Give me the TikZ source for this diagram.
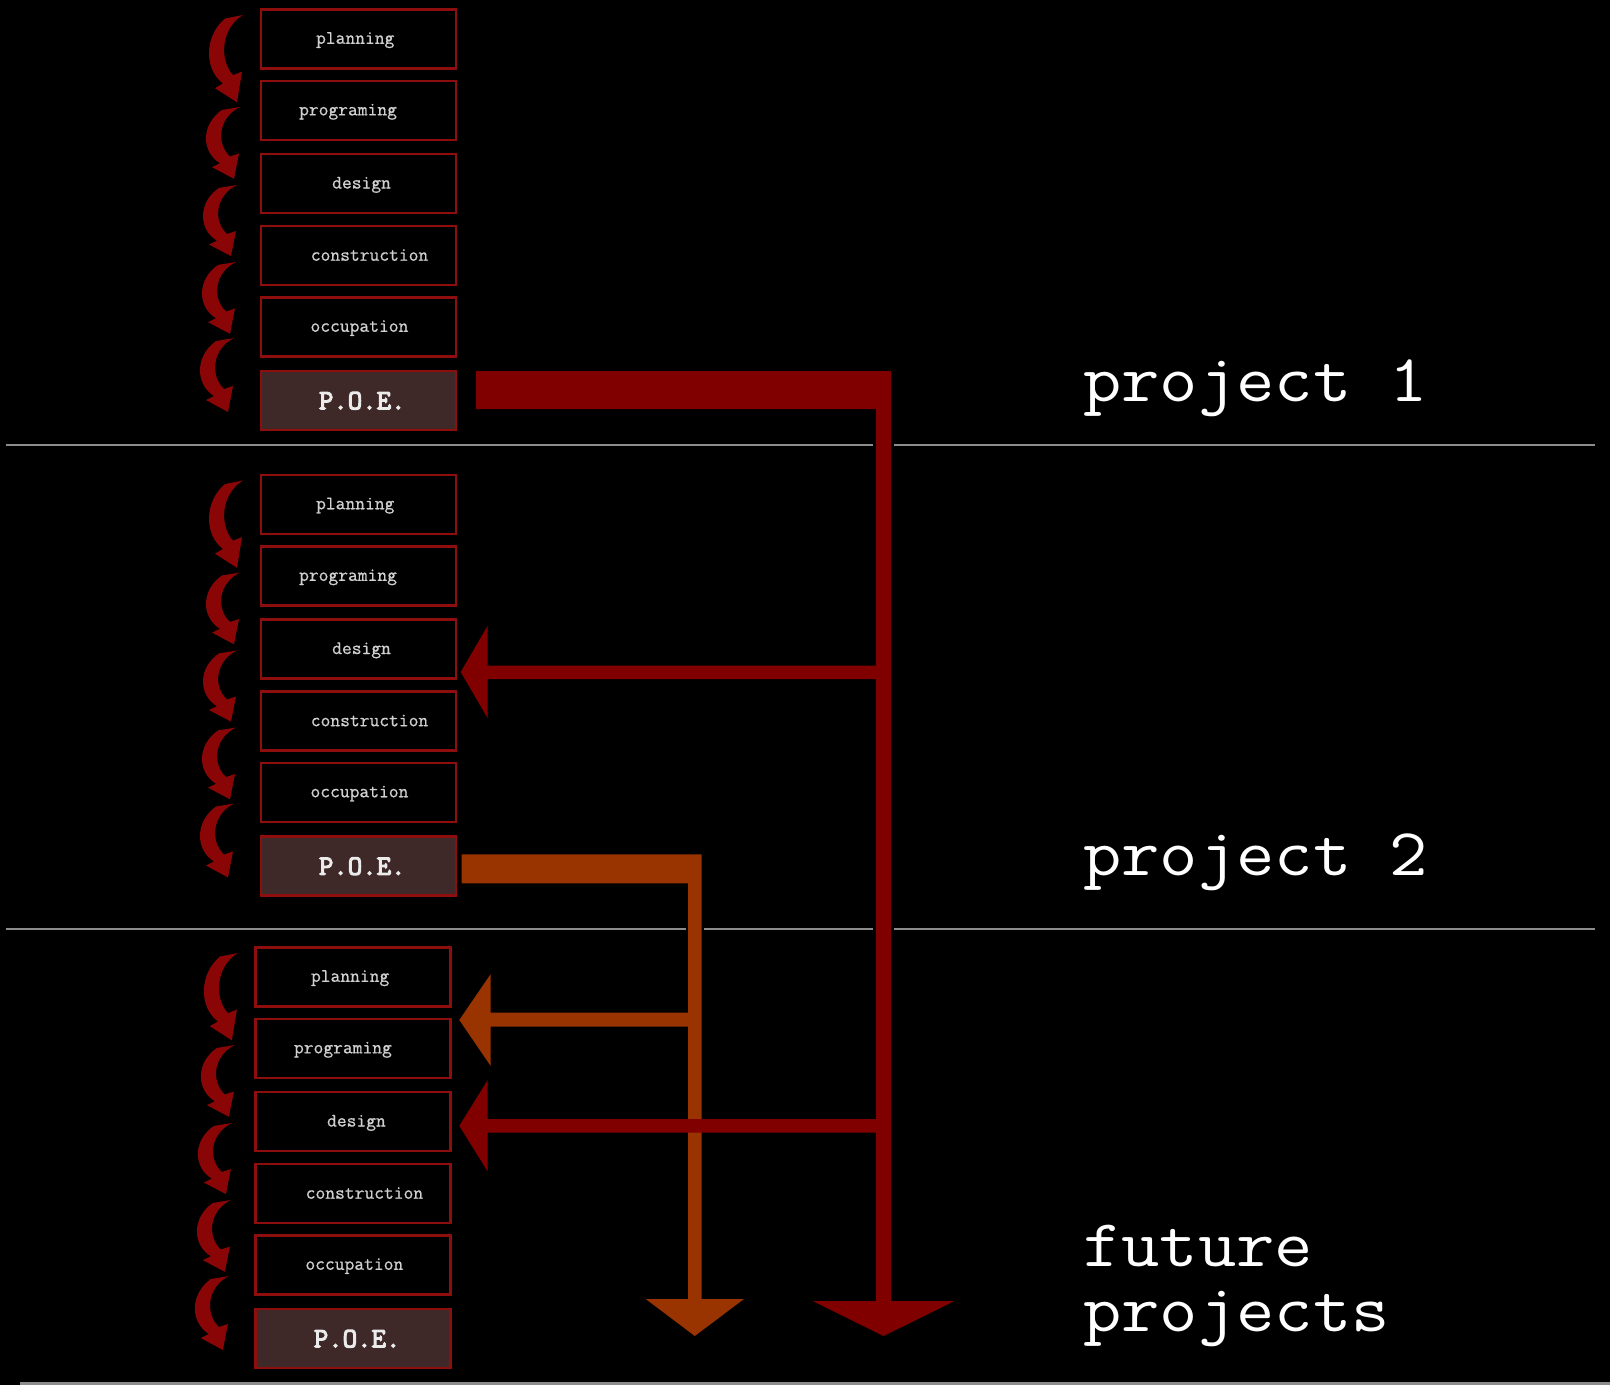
\documentclass[tikz,border=0pt]{standalone}
\usepackage{fontspec}
\setmainfont{Liberation Serif}
\newfontfamily\poefont[FakeBold=4]{Latin Modern Mono}
\newfontfamily\stagefont[FakeBold=0.8]{Latin Modern Mono}
\usetikzlibrary{calc}

\definecolor{deepred}{HTML}{800000}
\definecolor{rust}{HTML}{993300}
\definecolor{boxline}{HTML}{8E0E0E}
\definecolor{poefill}{HTML}{3E2828}
\definecolor{sepgray}{HTML}{8C8C8C}
\definecolor{stagegray}{HTML}{D0D0D0}
\definecolor{curlred}{HTML}{8A0606}

\newcommand{\widetitle}[1]{\scalebox{1.11}[1]{#1}}

\tikzset{
  stagebox/.style={draw=boxline, line width=2.5pt, fill=black,
    minimum width=195pt, minimum height=59pt, inner sep=0pt},
  poebox/.style={stagebox, fill=poefill},
  stagetext/.style={anchor=base, inner sep=0pt, text=stagegray,
    font=\stagefont\fontsize{19}{22}\selectfont},
  poetext/.style={anchor=base, inner sep=0pt, text=white!92!black,
    font=\poefont\fontsize{28}{32}\selectfont},
  bigtext/.style={anchor=base west, inner sep=0pt, text=white,
    font=\ttfamily\fontsize{67}{80}\selectfont},
  sepline/.style={draw=sepgray, line width=2.5pt},
  curl/.pic={
    \fill[curlred] (0,0) -- (-18,3)
      .. controls (-39,18) and (-39,46) .. (-20,58)
      -- (-28,62) -- (-6,74) -- (-1,48) -- (-10,51)
      .. controls (-24,38) and (-22,11) .. (0,0) -- cycle;
  }
}

% one column of project phases: #1 name prefix, #2 centre x, #3 centre y of the first box
\newcommand{\phasestack}[3]{%
  \foreach \nm/\txt/\dx/\dy in {a/planning/-3/0, b/programing/-10.2/71.6,
      c/design/3.3/144.75, d/construction/11.3/216.95, e/occupation/1.2/288}{
    \node[stagebox] (#1\nm) at (#2, #3+\dy) {};
    \node[stagetext] (#1\nm t) at ($(#1\nm.center)+(\dx,5)$) {\txt};
  }
  \node[poebox] (#1f) at (#2, #3+361.5) {};
  \node[poetext] (#1ft) at ($(#1f.center)+(4,9)$) {P.O.E.};
  % curved step arrows beside the boxes
  \pic[yscale=1.18] at (#2-115.25, #3-23.75) {curl};
  \pic[yscale=0.97] at (#2-118.25, #3+68.25) {curl};
  \pic[yscale=0.96] at (#2-121.25, #3+146.25) {curl};
  \pic[yscale=0.97] at (#2-122.25, #3+223.25) {curl};
  \pic at (#2-124.25, #3+299.25) {curl};
}

\begin{document}
\begin{tikzpicture}[x=1pt, y=-1pt]
  \fill[black] (0,0) rectangle (1610,1385);
  \useasboundingbox (0,0) rectangle (1610,1385);

  % section separators
  \draw[sepline] (6,445) -- (1595,445);
  \draw[sepline] (6,929) -- (1595,929);
  \draw[sepline, line width=3pt] (20,1383) -- (1610,1383);

  % phase columns
  \phasestack{pa}{358.25}{38.75}
  \phasestack{pb}{358.25}{504.25}
  \phasestack{pc}{353.15}{976.75}

  % black casing where the feedback lines cross the separators
  \fill[black] (873.3,420) rectangle (893.7,1290);
  \fill[black] (685.7,890) rectangle (703.7,1290);

  % feedback from the second P.O.E.
  \coordinate (ostart) at (461.7,854.3);
  \coordinate (otip) at (694.8,1336);
  \coordinate (oback) at (459.3,1020);
  \fill[rust] (ostart) -- (701.5,854.3) -- (701.5,1299) -- (744,1299)
    -- (otip) -- (645.7,1299) -- (688,1299)
    -- (688,1026.7) -- (490.7,1026.7) -- (490.7,1066)
    -- (oback) -- (490.7,974) -- (490.7,1012.7)
    -- (688,1012.7) -- (688,883.3) -- (461.7,883.3) -- cycle;

  % feedback from the first P.O.E.
  \coordinate (rstart) at (476,371);
  \coordinate (rtip) at (883.5,1336);
  \coordinate (rbackb) at (460.7,672);
  \coordinate (rbackc) at (459.3,1125.8);
  \fill[deepred] (rstart) -- (891,371) -- (891,1301) -- (954.3,1301)
    -- (rtip) -- (812.7,1301) -- (876,1301)
    -- (876,1132.7) -- (487.7,1132.7) -- (487.7,1171.6)
    -- (rbackc) -- (487.7,1080) -- (487.7,1119)
    -- (876,1119) -- (876,679) -- (487.7,679) -- (487.7,718.3)
    -- (rbackb) -- (487.7,625.7) -- (487.7,665.7)
    -- (876,665.7) -- (876,409) -- (476,409) -- cycle;

  % section titles
  \node[bigtext] (lab1) at (1083,401) {\widetitle{project 1}};
  \node[bigtext] (lab2) at (1083,875) {\widetitle{project 2}};
  \node[bigtext] (lab3a) at (1083,1266.7) {\widetitle{future}};
  \node[bigtext] (lab3b) at (1083,1331.7) {\widetitle{projects}};
\end{tikzpicture}
\end{document}
